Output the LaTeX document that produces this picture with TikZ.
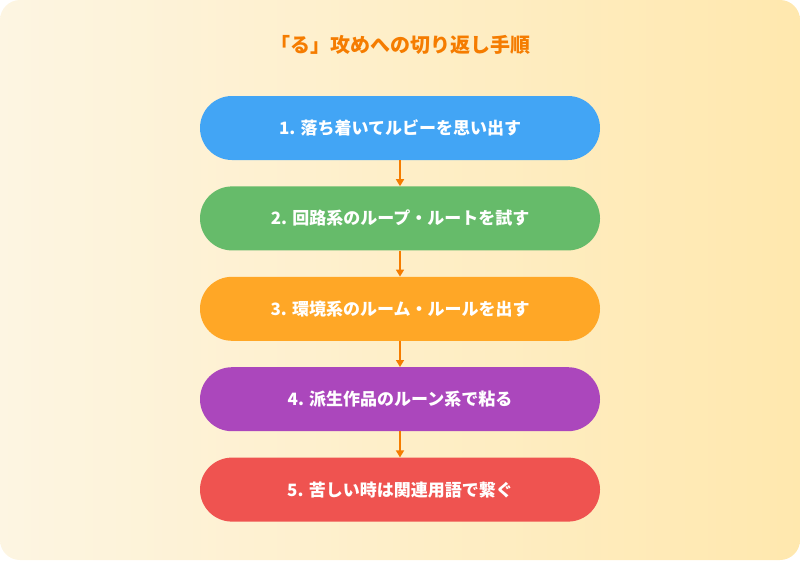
\documentclass[tikz,border=0pt]{standalone}
\usepackage{fontspec}
\setmainfont{Noto Sans CJK JP}
\usetikzlibrary{positioning,arrows.meta}
\definecolor{bgA}{HTML}{FDF5E2}
\definecolor{bgB}{HTML}{FFE8AE}
\definecolor{ttl}{HTML}{F57C00}
\definecolor{cblue}{HTML}{42A5F5}
\definecolor{cgreen}{HTML}{66BB6A}
\definecolor{corange}{HTML}{FFA726}
\definecolor{cpurple}{HTML}{AB47BC}
\definecolor{cred}{HTML}{EF5350}
\tikzset{
  stepbox/.style={rounded corners=32pt,minimum width=400pt,minimum height=64pt,
    text=white,font=\bfseries\fontsize{17}{20}\selectfont,inner sep=0pt},
  link/.style={draw=ttl,line width=1.6pt,-{Triangle[length=7pt,width=8pt]}}
}
\begin{document}
\begin{tikzpicture}[x=1pt,y=-1pt]
  \useasboundingbox (0,0) rectangle (800,560);
  \shade[rounded corners=20pt,shading angle=135,left color=bgA,right color=bgB]
    (0,0) rectangle (800,560);
  \node[name=title,text=ttl,font=\bfseries\fontsize{20}{24}\selectfont] at (400,45) {「る」攻めへの切り返し手順};
  \node[stepbox,fill=cblue,name=s1] at (400,128) {1. 落ち着いてルビーを思い出す};
  \node[stepbox,fill=cgreen,name=s2,below=26pt of s1] {2. 回路系のループ・ルートを試す};
  \node[stepbox,fill=corange,name=s3,below=26pt of s2] {3. 環境系のルーム・ルールを出す};
  \node[stepbox,fill=cpurple,name=s4,below=26pt of s3] {4. 派生作品のルーン系で粘る};
  \node[stepbox,fill=cred,name=s5,below=26pt of s4] {5. 苦しい時は関連用語で繋ぐ};
  \foreach \a/\b in {s1/s2,s2/s3,s3/s4,s4/s5}
    \path[link] (\a.south) -- (\b.north);
\end{tikzpicture}
\end{document}
